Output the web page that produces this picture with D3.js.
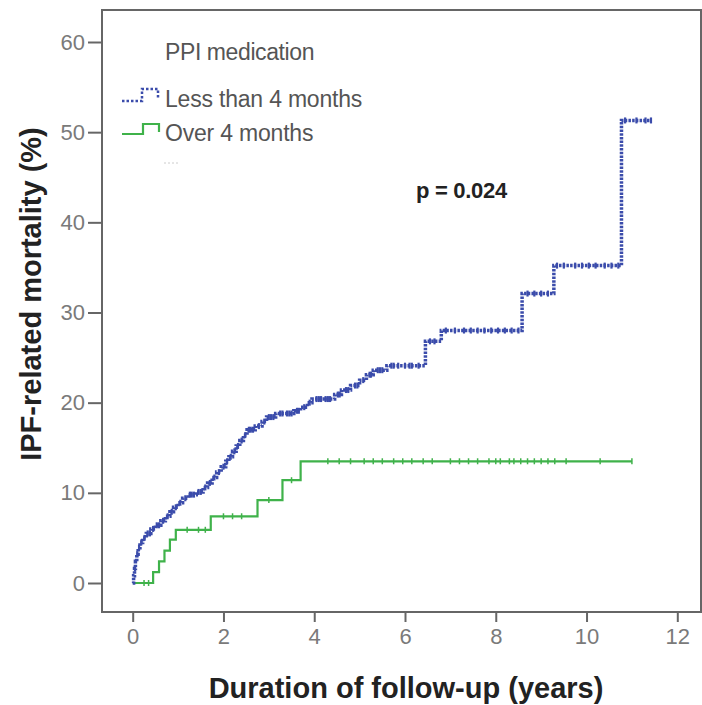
<!DOCTYPE html>
<html><head><meta charset="utf-8">
<script src="https://cdn.jsdelivr.net/npm/d3@7"></script>
<style>
body{margin:0;background:#fff;}
svg{display:block;font-family:"Liberation Sans",Arial,sans-serif;}
</style></head>
<body><svg id="c" width="702" height="705"></svg>
<script>
// ---- data ----
const xTicks = [0, 2, 4, 6, 8, 10, 12];
const yTicks = [0, 10, 20, 30, 40, 50, 60];
const seriesNames = ["Less than 4 months", "Over 4 months"];
const legendTitle = "PPI medication";
const pText = "p = 0.024";
const xTitle = "Duration of follow-up (years)";
const yTitle = "IPF-related mortality (%)";

// Less than 4 months: event times (years) and cumulative mortality (%)
const blueT = [0,0.02,0.04,0.06,0.09,0.12,0.16,0.22,0.30,0.40,0.50,0.62,0.72,0.82,0.90,1.00,1.10,1.22,1.40,1.55,1.65,1.75,1.85,1.95,2.05,2.12,2.20,2.28,2.36,2.44,2.52,2.70,2.85,2.95,3.15,3.55,3.70,3.85,3.95,4.45,4.60,4.80,5.00,5.15,5.30,5.60,6.45,6.80,8.58,9.28,10.77,11.42];
const blueY = [0,0.8,1.6,2.4,3.2,3.9,4.5,5.0,5.5,6.0,6.4,6.9,7.4,7.9,8.4,8.9,9.4,9.8,10.1,10.6,11.1,11.7,12.3,12.9,13.5,14.0,14.6,15.2,15.8,16.4,17.0,17.4,17.9,18.4,18.8,19.1,19.5,20.0,20.4,20.9,21.4,21.9,22.5,23.1,23.6,24.1,26.8,28.0,32.1,35.2,51.3,51.3];
const blueCensor = [0.05,0.1,0.14,0.19,0.26,0.33,0.38,0.45,0.53,0.58,0.67,0.77,0.86,0.95,1.05,1.16,1.26,1.3,1.35,1.45,1.5,1.6,1.7,1.8,1.9,2.0,2.08,2.16,2.24,2.32,2.4,2.48,2.56,2.6,2.65,2.78,2.9,3.0,3.05,3.1,3.25,3.3,3.4,3.45,3.5,3.62,3.66,3.78,3.9,4.05,4.1,4.15,4.25,4.3,4.35,4.52,4.56,4.7,4.75,4.9,4.95,5.08,5.22,5.25,5.4,5.45,5.5,5.7,5.75,5.85,6.0,6.1,6.15,6.3,6.55,6.65,6.9,7.1,7.3,7.45,7.6,7.75,7.9,8.05,8.2,8.35,8.5,8.7,8.85,9.0,9.15,9.35,9.5,9.75,9.9,10.05,10.2,10.4,10.55,10.7,10.85,11.1,11.3,11.42];

// Over 4 months
const greenT = [0,0.45,0.58,0.70,0.82,0.95,1.72,2.75,3.30,3.70,11.0];
const greenY = [0,1.2,2.4,3.6,4.8,5.9,7.4,9.2,11.4,13.5,13.5];
const greenCensor = [0.25,0.35,1.2,1.45,1.6,2.0,2.2,2.4,3.0,3.5,4.3,4.55,4.8,5.1,5.3,5.5,5.75,5.95,6.15,6.4,6.6,7.0,7.2,7.4,7.6,7.85,8.0,8.1,8.3,8.4,8.55,8.7,8.85,9.0,9.15,9.3,9.55,10.3,11.0];

// ---- drawing ----
const svg = d3.select("#c");
const x = d3.scaleLinear().domain([0, 12]).range([132.7, 677.3]);
const y = d3.scaleLinear().domain([0, 60]).range([583, 42]);
const frame = {l: 102, t: 10, r: 701, b: 612};
const blue = "#3b4cab", green = "#3fb24a", grey = "#666";

svg.append("rect").attr("x", frame.l).attr("y", frame.t)
  .attr("width", frame.r - frame.l).attr("height", frame.b - frame.t)
  .attr("fill", "none").attr("stroke", grey).attr("stroke-width", 2);

const yAx = svg.append("g").attr("transform", `translate(${frame.l},0)`)
  .call(d3.axisLeft(y).tickValues(yTicks).tickSize(14).tickPadding(3));
const xAx = svg.append("g").attr("transform", `translate(0,${frame.b})`)
  .call(d3.axisBottom(x).tickValues(xTicks).tickSize(10).tickPadding(6));
[yAx, xAx].forEach(g => {
  g.select(".domain").remove();
  g.selectAll(".tick line").attr("stroke", grey).attr("stroke-width", 2);
  g.selectAll(".tick text").attr("fill", "#7a7a7a").attr("font-size", 22)
    .attr("font-family", "Liberation Sans, Arial, sans-serif");
});

function pts(T, Y) { return T.map((t, i) => [t, Y[i]]); }
const line = d3.line().x(d => x(d[0])).y(d => y(d[1])).curve(d3.curveStepAfter);
function valAt(T, Y, t) { let v = Y[0]; for (let i = 0; i < T.length; i++) if (T[i] <= t) v = Y[i]; return v; }

// green
svg.append("path").attr("d", line(pts(greenT, greenY)))
  .attr("fill", "none").attr("stroke", green).attr("stroke-width", 2.2);
svg.append("g").selectAll("line").data(greenCensor).join("line")
  .attr("x1", d => x(d)).attr("x2", d => x(d))
  .attr("y1", d => y(valAt(greenT, greenY, d)) - 3)
  .attr("y2", d => y(valAt(greenT, greenY, d)) + 3)
  .attr("stroke", green).attr("stroke-width", 1.5);

// blue
svg.append("path").attr("d", line(pts(blueT, blueY)))
  .attr("fill", "none").attr("stroke", blue).attr("stroke-width", 3.5)
  .attr("stroke-dasharray", "2.5,1.2");
svg.append("g").selectAll("line").data(blueCensor).join("line")
  .attr("x1", d => x(d)).attr("x2", d => x(d))
  .attr("y1", d => y(valAt(blueT, blueY, d)) - 3)
  .attr("y2", d => y(valAt(blueT, blueY, d)) + 3)
  .attr("stroke", blue).attr("stroke-width", 2.2);

// legend
svg.append("text").attr("x", 165).attr("y", 60).attr("font-size", 23)
  .attr("fill", "#555").attr("letter-spacing", -0.4).text(legendTitle);
svg.append("path").attr("d", "M122,101H142V89H158V98")
  .attr("fill", "none").attr("stroke", blue).attr("stroke-width", 2.5).attr("stroke-dasharray", "2.5,2");
svg.append("text").attr("x", 165).attr("y", 107).attr("font-size", 23)
  .attr("fill", "#555").attr("letter-spacing", -0.2).text(seriesNames[0]);
svg.append("path").attr("d", "M122,134H143V124H159V132")
  .attr("fill", "none").attr("stroke", green).attr("stroke-width", 2.2);
svg.append("text").attr("x", 165).attr("y", 141).attr("font-size", 23)
  .attr("fill", "#555").attr("letter-spacing", -0.2).text(seriesNames[1]);
svg.append("path").attr("d", "M164,163H180").attr("stroke", "#ccc")
  .attr("stroke-width", 1).attr("stroke-dasharray", "2,2");

// p-value
svg.append("text").attr("x", 416).attr("y", 198).attr("font-size", 22)
  .attr("font-weight", "bold").attr("fill", "#222").attr("letter-spacing", -0.3).text(pText);

// axis titles
svg.append("text").attr("x", 406).attr("y", 698).attr("text-anchor", "middle")
  .attr("font-size", 29).attr("font-weight", "bold").attr("fill", "#222")
  .text(xTitle);
svg.append("text").attr("transform", "translate(41,294) rotate(-90)")
  .attr("text-anchor", "middle").attr("font-size", 29).attr("font-weight", "bold")
  .attr("fill", "#222").text(yTitle);
</script></body></html>
